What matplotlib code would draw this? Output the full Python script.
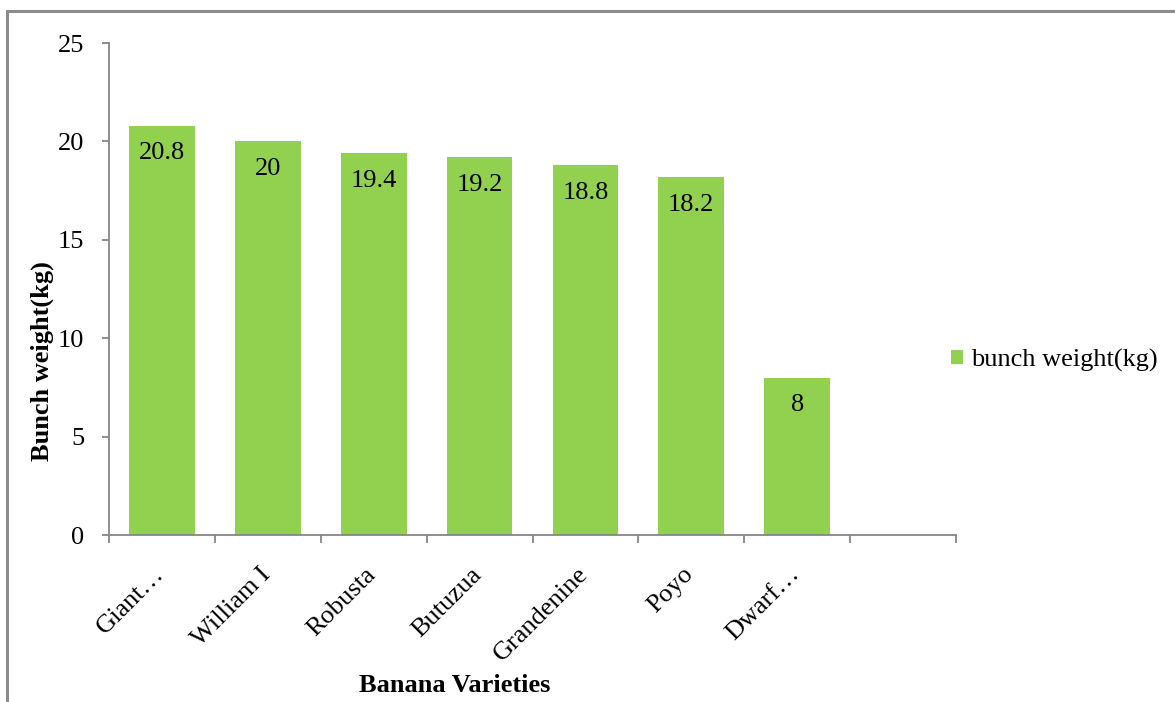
import numpy as np
import matplotlib
matplotlib.use("Agg")
import matplotlib.pyplot as plt
from matplotlib.patches import Rectangle
from matplotlib.transforms import ScaledTranslation

# Chart data
varieties = ["Giant…", "William I", "Robusta", "Butuzua", "Grandenine", "Poyo", "Dwarf…"]
bunch_weight = [20.8, 20, 19.4, 19.2, 18.8, 18.2, 8]
value_labels = ["20.8", "20", "19.4", "19.2", "18.8", "18.2", "8"]
y_ticks = [0, 5, 10, 15, 20, 25]
n_slots = 8  # Excel left one empty category slot at the end

bar_color = "#92D050"
axis_color = "#868686"
fs = 19

plt.rcParams["font.family"] = ["Liberation Serif", "DejaVu Serif"]

W, H = 1175, 702
fig = plt.figure(figsize=(W / 100, H / 100), dpi=100)

# outer frame of the chart area (cut at right and bottom in the original)
fig.patches.append(Rectangle((7 / W, -0.1), 1.2, 1 - 11 / H + 0.1, transform=fig.transFigure,
                             fill=False, edgecolor="#8c8c8c", linewidth=2.2))

ax = fig.add_axes([109 / W, 1 - 535 / H, (956 - 109) / W, (535 - 43) / H])

x = np.arange(len(varieties))
bars = ax.bar(x, bunch_weight, width=0.62, color=bar_color, label="bunch weight(kg)", zorder=2)

# value labels inside the bars, near the top
for xi, val, txt in zip(x, bunch_weight, value_labels):
    ax.annotate(txt, (xi, val), xytext=(0, -20), textcoords="offset points",
                ha="center", va="center", fontsize=fs, color="black")

ax.set_xlim(-0.5, n_slots - 0.5)
ax.set_ylim(0, 25)

for s in ["top", "right"]:
    ax.spines[s].set_visible(False)
for s in ["left", "bottom"]:
    ax.spines[s].set_color(axis_color)
    ax.spines[s].set_linewidth(1.3)

ax.set_yticks(y_ticks)
ax.set_yticklabels([str(t) for t in y_ticks], fontsize=fs)
ax.tick_params(axis="y", direction="out", length=5, width=1.3, color=axis_color, pad=13)

# boundaries ticks as minor ticks, labels at category centres
ax.set_xticks(np.arange(n_slots + 1) - 0.5, minor=True)
ax.set_xticks(x)
ax.set_xticklabels(varieties, fontsize=fs, rotation=45, ha="right", va="center",
                   rotation_mode="anchor")
ax.tick_params(axis="x", which="major", length=0, pad=26)
ax.tick_params(axis="x", which="minor", direction="out", length=6, width=1.3, color=axis_color)
for lab in ax.get_xticklabels():
    lab.set_transform(lab.get_transform() + ScaledTranslation(-1 / 100, 0, fig.dpi_scale_trans))

fig.text(42 / W, 1 - 361 / H, "Bunch weight(kg)", rotation=90, ha="center", va="center",
         fontsize=fs, fontweight="bold")
fig.text(455 / W, 1 - 686 / H, "Banana Varieties", ha="center", va="center",
         fontsize=fs, fontweight="bold")

fig.legend(handles=[bars], labels=["bunch weight(kg)"], loc="center left",
           bbox_to_anchor=(951 / W, 1 - 360 / H), frameon=False, fontsize=fs,
           handlelength=0.45, handleheight=0.45, handletextpad=0.3,
           borderpad=0, borderaxespad=0)

fig.savefig("out.png", dpi=100, facecolor="white")
